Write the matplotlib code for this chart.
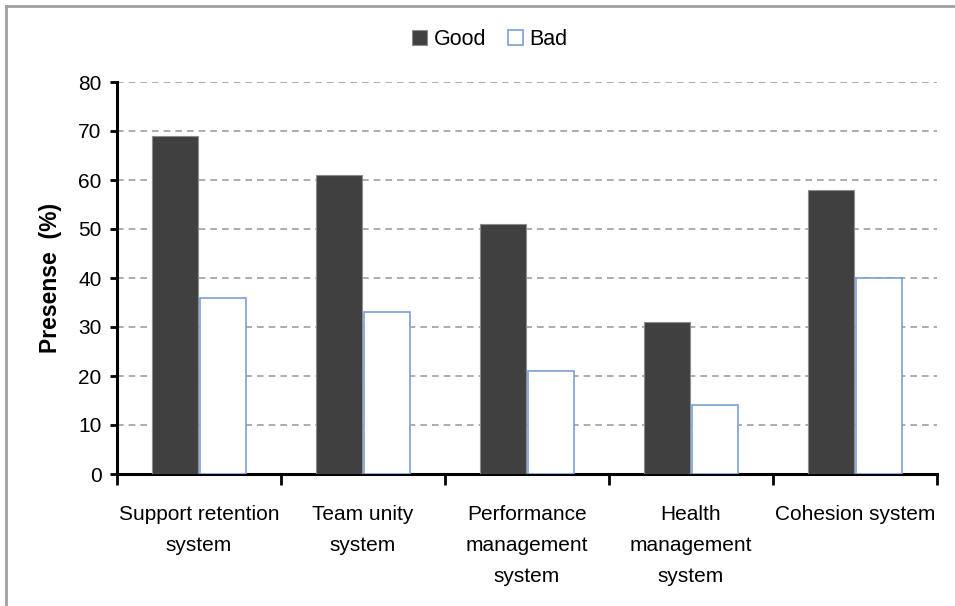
import numpy as np
from matplotlib import pyplot as plt
from matplotlib.lines import Line2D

categories = ['Support retention\nsystem', 'Team unity\nsystem',
              'Performance\nmanagement\nsystem', 'Health\nmanagement\nsystem',
              'Cohesion system']
good = [69, 61, 51, 31, 58]
bad = [36, 33, 21, 14, 40]
yticks = [0, 10, 20, 30, 40, 50, 60, 70, 80]

plt.rcParams['font.family'] = ['Liberation Sans', 'DejaVu Sans']

fig = plt.figure(figsize=(9.55, 6.06), dpi=100)
ax = fig.add_axes([117 / 955, 1 - 474 / 606, 820 / 955, 392 / 606])

x = np.arange(len(categories))
w = 0.28
ax.bar(x - 0.146, good, w, color='#404040', edgecolor='#8c8c8c', linewidth=0.8,
       label='Good', zorder=3)
ax.bar(x + 0.146, bad, w, color='white', edgecolor='#7b9fd4', linewidth=1.2,
       label='Bad', zorder=3)

ax.set_xlim(-0.5, len(categories) - 0.5)
ax.set_ylim(0, 80)
ax.set_yticks(yticks)
ax.yaxis.grid(True, linestyle=(0, (4, 3)), color='#a0a0a0', linewidth=1.2, zorder=0)
ax.set_axisbelow(True)

ax.set_xticks(x)
ax.set_xticklabels(categories, fontsize=15, linespacing=1.8, va='top')
ax.set_xticks(np.arange(len(categories) + 1) - 0.5, minor=True)
ax.tick_params(axis='x', which='major', length=0, pad=22)
ax.tick_params(axis='x', which='minor', length=8, width=2, direction='out')
ax.tick_params(axis='y', length=5, width=2, direction='out', labelsize=15, pad=6)

for s in ['top', 'right']:
    ax.spines[s].set_visible(False)
ax.spines['left'].set_linewidth(2.2)
ax.spines['bottom'].set_linewidth(2.2)

ax.set_ylabel('Presense  (%)', fontsize=16.5, fontweight='bold')
ax.yaxis.set_label_coords(-0.067, 0.5)

fig.legend(*ax.get_legend_handles_labels(), loc='center', bbox_to_anchor=(0.513, 0.934),
           ncol=2, frameon=False, fontsize=15.5, handlelength=0.7, handleheight=0.7,
           handletextpad=0.3, columnspacing=1.0)

# outer frame (left and top only)
fig.add_artist(Line2D([6 / 955, 6 / 955], [0, 1 - 6 / 606], color='#a0a0a0',
                      linewidth=2, transform=fig.transFigure))
fig.add_artist(Line2D([6 / 955, 1], [1 - 6 / 606, 1 - 6 / 606], color='#a0a0a0',
                      linewidth=2, transform=fig.transFigure))

plt.savefig('out.png', dpi=100)
plt.close()
